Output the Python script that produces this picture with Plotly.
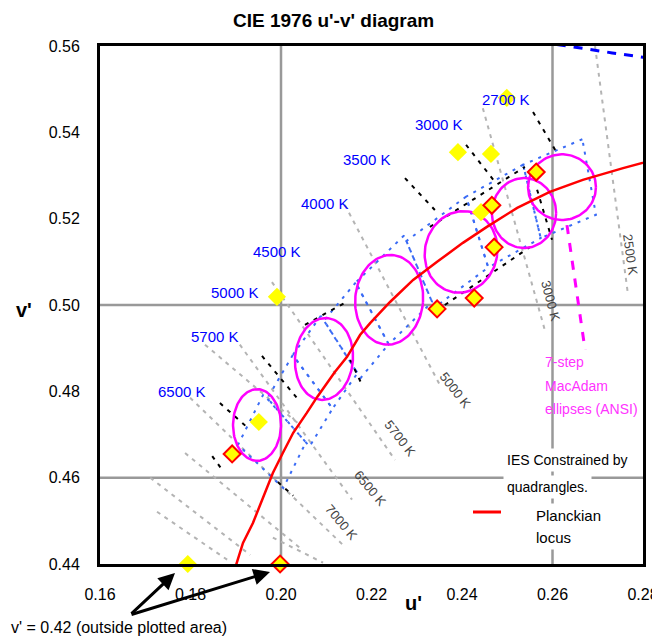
import numpy as np
import plotly.graph_objects as go

# ---------------- data (u', v') ----------------
planck_u = [0.1894, 0.1916, 0.1938, 0.1960, 0.1982, 0.2004, 0.2027, 0.2057, 0.2080,
            0.2119, 0.2146, 0.2175, 0.2197, 0.2241, 0.2292, 0.2345, 0.2402, 0.2455,
            0.2522, 0.2594, 0.2667, 0.2756, 0.2822]
planck_v = [0.4375, 0.4449, 0.4495, 0.4555, 0.4611, 0.4657, 0.4704, 0.4750, 0.4787,
            0.4845, 0.4880, 0.4931, 0.4958, 0.5007, 0.5058, 0.5100, 0.5144, 0.5181,
            0.5225, 0.5262, 0.5290, 0.5317, 0.5336]

spectral_u = [0.2535, 0.2634, 0.2732, 0.2827]
spectral_v = [0.5614, 0.5600, 0.5584, 0.5570]

quad_names = ["2700 K", "3000 K", "3500 K", "4000 K", "4500 K", "5000 K", "5700 K", "6500 K"]
quad_u = [[0.2666, 0.2535, 0.2574, 0.2696],
          [0.2535, 0.2409, 0.2458, 0.2574],
          [0.2409, 0.2277, 0.2339, 0.2458],
          [0.2272, 0.2165, 0.2238, 0.2334],
          [0.2165, 0.2095, 0.2176, 0.2238],
          [0.2088, 0.2026, 0.2114, 0.2169],
          [0.2026, 0.1970, 0.2063, 0.2114],
          [0.1961, 0.1905, 0.2005, 0.2055]]
quad_v = [[0.5384, 0.5325, 0.5155, 0.5209],
          [0.5325, 0.5251, 0.5087, 0.5155],
          [0.5251, 0.5148, 0.4994, 0.5087],
          [0.5161, 0.5052, 0.4909, 0.5007],
          [0.5052, 0.4964, 0.4831, 0.4909],
          [0.4975, 0.4884, 0.4760, 0.4842],
          [0.4884, 0.4784, 0.4672, 0.4760],
          [0.4793, 0.4676, 0.4576, 0.4682]]

ell_cu = [0.1947, 0.2095, 0.2239, 0.2398, 0.2537, 0.2621]
ell_cv = [0.4722, 0.4875, 0.5012, 0.5123, 0.5213, 0.5273]
ell_au = [0.0053, 0.0064, 0.0075, 0.0080, 0.0071, 0.0075]
ell_bv = [0.0083, 0.0095, 0.0104, 0.0095, 0.0081, 0.0076]
ell_tilt = [0, 4, 4, 10, 0, 0]

cct_text = ["2700 K", "3000 K", "3500 K", "4000 K", "4500 K", "5000 K", "5700 K", "6500 K"]
cct_u = [0.2497, 0.2349, 0.2190, 0.2097, 0.1991, 0.1898, 0.1854, 0.1781]
cct_v = [0.5477, 0.5419, 0.5336, 0.5236, 0.5125, 0.5030, 0.4926, 0.4799]

plain_u = [0.1991, 0.1951, 0.1794, 0.2391, 0.2464, 0.2499, 0.2442]
plain_v = [0.5019, 0.4729, 0.4400, 0.5354, 0.5350, 0.5480, 0.5215]
outl_u = [0.1892, 0.1998, 0.2345, 0.2427, 0.2471, 0.2466, 0.2564]
outl_v = [0.4655, 0.4400, 0.4991, 0.5016, 0.5134, 0.5231, 0.5308]

grey_u0 = [0.2446, 0.2694, 0.2141, 0.1980, 0.1909, 0.1832, 0.1799, 0.1788, 0.1711, 0.1726, 0.1982]
grey_v0 = [0.5456, 0.5600, 0.5232, 0.5053, 0.4908, 0.4908, 0.4785, 0.4657, 0.4600, 0.4521, 0.4461]
grey_u1 = [0.2583, 0.2767, 0.2351, 0.2252, 0.2157, 0.2042, 0.2141, 0.2042, 0.1932, 0.1881, 0.2093]
grey_v1 = [0.4942, 0.5023, 0.4815, 0.4641, 0.4549, 0.4722, 0.4440, 0.4437, 0.4421, 0.4410, 0.4403]

black_u0 = [0.2557, 0.2566, 0.2409, 0.2274, 0.2329, 0.2362, 0.1958, 0.1865, 0.1848, 0.1993, 0.2053, 0.2153]
black_v0 = [0.5447, 0.5267, 0.5371, 0.5294, 0.5181, 0.5000, 0.4882, 0.4773, 0.4650, 0.4590, 0.4954, 0.4873]
black_u1 = [0.2606, 0.2599, 0.2473, 0.2340, 0.2539, 0.2550, 0.2042, 0.1927, 0.1870, 0.2027, 0.2141, 0.2179]
black_v1 = [0.5359, 0.5151, 0.5285, 0.5220, 0.5320, 0.5134, 0.4776, 0.4715, 0.4618, 0.4558, 0.5005, 0.4815]

rot_text = ["5000 K", "5700 K", "6500 K", "7000 K", "3000 K", "2500 K"]
rot_u = [0.2385, 0.2263, 0.2197, 0.2133, 0.2597, 0.2771]
rot_v = [0.4801, 0.4690, 0.4574, 0.4495, 0.5009, 0.5116]
rot_ang = [52, 52, 50, 50, 75, 82]

leader_u = [0.2632, 0.2672]
leader_v = [0.5185, 0.4896]

x_ticks = [0.16, 0.18, 0.20, 0.22, 0.24, 0.26, 0.28]
y_ticks = [0.44, 0.46, 0.48, 0.50, 0.52, 0.54, 0.56]
grid_u = [0.20, 0.26]
grid_v = [0.46, 0.50]

FONT = "Arial, Liberation Sans, sans-serif"

# The page has an 8px body margin, so the figure is sized/offset to compensate.
OFF = 8
W, H = 660 - OFF, 636 - OFF
L, T = 100 - OFF, 46 - OFF
R, B = W - (643 - OFF), H - (564 - OFF)
PW, PH = W - L - R, H - T - B


def px(xs):
    return (xs - OFF - L) / PW


def py(ys):
    return (H - B - (ys - OFF)) / PH


fig = go.Figure()


def segs(u0, v0, u1, v1):
    xs, ys = [], []
    for a, b, c, d in zip(u0, v0, u1, v1):
        xs += [a, c, None]
        ys += [b, d, None]
    return xs, ys


gx, gy = segs(grey_u0, grey_v0, grey_u1, grey_v1)
fig.add_trace(go.Scatter(x=gx, y=gy, mode="lines",
                         line=dict(color="#b4b4b4", width=2, dash="4px,5px"),
                         hoverinfo="skip", showlegend=False))

qx, qy = [], []
for qu, qv in zip(quad_u, quad_v):
    qx += qu + [qu[0], None]
    qy += qv + [qv[0], None]
fig.add_trace(go.Scatter(x=qx, y=qy, mode="lines",
                         line=dict(color="#3a6bf5", width=2, dash="3px,6px"),
                         hoverinfo="skip", showlegend=False))

bx, by = segs(black_u0, black_v0, black_u1, black_v1)
fig.add_trace(go.Scatter(x=bx, y=by, mode="lines",
                         line=dict(color="black", width=2, dash="4px,6px"),
                         hoverinfo="skip", showlegend=False))

t = np.linspace(0, 2 * np.pi, 120)
ex, ey = [], []
for cu, cv, a, b, th in zip(ell_cu, ell_cv, ell_au, ell_bv, ell_tilt):
    r = np.radians(th)
    xx = a * np.cos(t)
    yy = b * np.sin(t)
    ex += list(cu + xx * np.cos(r) + yy * np.sin(r)) + [None]
    ey += list(cv - xx * np.sin(r) + yy * np.cos(r)) + [None]
fig.add_trace(go.Scatter(x=ex, y=ey, mode="lines",
                         line=dict(color="#ff00ff", width=2.5),
                         hoverinfo="skip", showlegend=False))

fig.add_trace(go.Scatter(x=leader_u, y=leader_v, mode="lines",
                         line=dict(color="#ff00ff", width=3, dash="9px,9px"),
                         hoverinfo="skip", showlegend=False))

fig.add_trace(go.Scatter(x=planck_u, y=planck_v, mode="lines",
                         line=dict(color="#ff0000", width=2.5),
                         hoverinfo="skip", showlegend=False))

fig.add_trace(go.Scatter(x=spectral_u, y=spectral_v, mode="lines",
                         line=dict(color="#0000ff", width=3, dash="9px,8px"),
                         hoverinfo="skip", showlegend=False))

fig.add_trace(go.Scatter(x=plain_u, y=plain_v, mode="markers", cliponaxis=False,
                         marker=dict(symbol="diamond", size=14, color="#ffff00",
                                     line=dict(width=0)),
                         hoverinfo="skip", showlegend=False))
fig.add_trace(go.Scatter(x=outl_u, y=outl_v, mode="markers", cliponaxis=False,
                         marker=dict(symbol="diamond", size=13, color="#ffff00",
                                     line=dict(width=2, color="#ff0000")),
                         hoverinfo="skip", showlegend=False))

shapes = []
for g in grid_u:
    shapes.append(dict(type="line", xref="x", yref="y", x0=g, x1=g, y0=0.44, y1=0.56,
                       line=dict(color="#999999", width=2.5), layer="below"))
for g in grid_v:
    shapes.append(dict(type="line", xref="x", yref="y", x0=0.16, x1=0.28, y0=g, y1=g,
                       line=dict(color="#999999", width=2.5), layer="below"))
# legend sample line
shapes.append(dict(type="line", xref="paper", yref="paper", x0=px(473), x1=px(501),
                   y0=py(512), y1=py(512), line=dict(color="#ff0000", width=3)))

ann = []
for s, u, v in zip(cct_text, cct_u, cct_v):
    ann.append(dict(x=u, y=v, xref="x", yref="y", text=s, showarrow=False,
                    xanchor="center", yanchor="middle",
                    font=dict(family=FONT, size=15, color="#0000ff")))
for s, u, v, a in zip(rot_text, rot_u, rot_v, rot_ang):
    ann.append(dict(x=u, y=v, xref="x", yref="y", text=s, showarrow=False, textangle=a,
                    xanchor="center", yanchor="middle",
                    font=dict(family=FONT, size=13, color="#444444")))

# magenta note
for s, yp in zip(["7-step", "MacAdam", "ellipses (ANSI)"], [362, 386, 409]):
    ann.append(dict(x=px(543), y=py(yp), xref="paper", yref="paper",
                    text=s, showarrow=False, xanchor="left", yanchor="middle",
                    font=dict(family=FONT, size=14, color="#ff33ff")))

# legend texts
for s, yp in zip(["IES Constrained by", "quadrangles."], [460, 487]):
    ann.append(dict(x=px(503), y=py(yp), xref="paper", yref="paper",
                    text=s, showarrow=False, xanchor="left", yanchor="middle",
                    bgcolor="white", borderpad=3,
                    font=dict(family=FONT, size=14, color="black")))
for s, yp in zip(["Planckian", "locus"], [515, 537]):
    ann.append(dict(x=px(532), y=py(yp), xref="paper", yref="paper",
                    text=s, showarrow=False, xanchor="left", yanchor="middle",
                    bgcolor="white", borderpad=3,
                    font=dict(family=FONT, size=15, color="black")))

# title and axis titles
ann.append(dict(x=px(333), y=py(21), xref="paper", yref="paper",
                text="<b>CIE 1976 u'-v' diagram</b>", showarrow=False,
                xanchor="center", yanchor="middle",
                font=dict(family=FONT, size=19, color="black")))
ann.append(dict(x=px(413), y=py(603), xref="paper", yref="paper",
                text="<b>u'</b>", showarrow=False, xanchor="center", yanchor="middle",
                font=dict(family=FONT, size=20, color="black")))
ann.append(dict(x=px(24), y=py(310), xref="paper", yref="paper",
                text="<b>v'</b>", showarrow=False, xanchor="center", yanchor="middle",
                font=dict(family=FONT, size=20, color="black")))

# outside note and arrows (arrows point at the two markers drawn on the lower border)
ann.append(dict(x=px(9), y=py(627), xref="paper", yref="paper",
                text="v' = 0.42 (outside plotted area)", showarrow=False,
                xanchor="left", yanchor="middle",
                font=dict(family=FONT, size=16, color="black")))
for hx, hy in [(175, 573), (270, 572)]:
    ann.append(dict(x=px(hx), y=py(hy), xref="paper", yref="paper",
                    ax=130 - hx, ay=615 - hy, axref="pixel", ayref="pixel",
                    text="", showarrow=True, arrowhead=2,
                    arrowsize=1.1, arrowwidth=3, arrowcolor="black", standoff=0))

fig.update_layout(
    width=W, height=H,
    margin=dict(l=L, r=R, t=T, b=B, autoexpand=False),
    paper_bgcolor="white", plot_bgcolor="white",
    shapes=shapes, annotations=ann, showlegend=False,
    font=dict(family=FONT, size=16, color="black"),
)
fig.update_xaxes(range=[0.16, 0.28], tickvals=x_ticks,
                 ticktext=[f"{v:.2f}" for v in x_ticks], automargin=False,
                 showgrid=False, zeroline=False, showline=True, linewidth=3,
                 linecolor="black", mirror=True, ticks="", ticklabelstandoff=14,
                 tickfont=dict(family=FONT, size=16))
fig.update_yaxes(range=[0.44, 0.56], tickvals=y_ticks,
                 ticktext=[f"{v:.2f}" for v in y_ticks], automargin=False,
                 showgrid=False, zeroline=False, showline=True, linewidth=3,
                 linecolor="black", mirror=True, ticks="", ticklabelstandoff=14,
                 tickfont=dict(family=FONT, size=16))

fig.write_html("out.html")
